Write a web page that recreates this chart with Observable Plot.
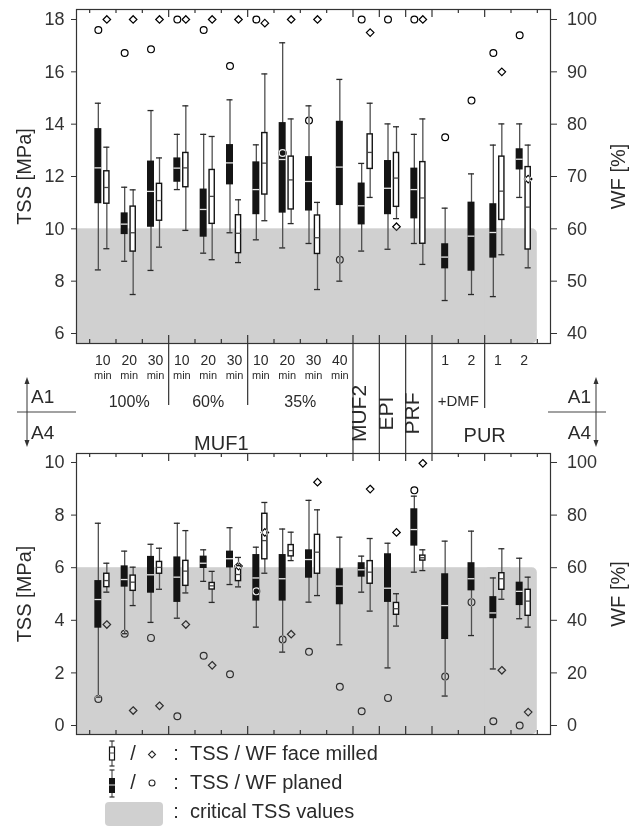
<!DOCTYPE html>
<html><head><meta charset="utf-8">
<script src="https://cdn.jsdelivr.net/npm/d3@7"></script>
<script src="https://cdn.jsdelivr.net/npm/@observablehq/plot@0.6"></script>
<style>
body{margin:0;background:#fff;}
#wrap{position:relative;width:630px;height:828px;font-family:"Liberation Sans",Arial,sans-serif;}
#wrap svg{position:absolute;left:0;}
</style></head><body><div id="wrap"></div>
<script>
// ---- categories ----
const groups = ["MUF1 100% 10 min","MUF1 100% 20 min","MUF1 100% 30 min","MUF1 60% 10 min","MUF1 60% 20 min","MUF1 60% 30 min","MUF1 35% 10 min","MUF1 35% 20 min","MUF1 35% 30 min","MUF1 35% 40 min","MUF2","EPI","PRF","PUR+DMF 1","PUR+DMF 2","PUR 1","PUR 2"];
const hasFace = [1,1,1,1,1,1,1,1,1,0,1,1,1,0,0,1,1];
const durLabels = ["10","20","30","10","20","30","10","20","30","40","","","","1","2","1","2"];
const minLabels = ["min","min","min","min","min","min","min","min","min","min","","","","","","",""];
const concLabels = ["100%","60%","35%"];
const concSpans = [[0,3],[3,6],[6,10]];
const sysLabels = ["MUF1","PUR"];
const sysSpans = [[0,10],[13,17]];
const vertLabels = ["MUF2","EPI","PRF"];
const vertGroups = [10,11,12];
const dmfLabel = "+DMF";
const majorBounds = [3,6,10,11,12,13,15];
const legendLabels = ["TSS / WF face milled","TSS / WF planed","critical TSS values"];

// ---- A1: TSS boxes [lower whisker, Q1, median, Q3, upper whisker] ----
const a1Planed = [
 [8.43,10.96,12.33,13.83,14.80],[8.76,9.78,10.18,10.61,11.59],[8.41,10.06,11.43,12.59,14.52],
 [11.50,11.78,12.32,12.71,13.61],[9.07,9.68,10.74,11.52,13.61],[9.85,11.68,12.52,13.22,14.93],
 [9.58,10.54,11.50,12.56,13.21],[9.27,10.60,12.65,14.06,17.11],[9.44,10.68,11.81,12.76,14.70],
 [8.00,10.89,12.36,14.11,15.71],[9.15,10.15,10.88,11.75,12.50],[9.22,10.54,11.55,12.61,14.01],
 [9.44,10.38,11.50,12.32,13.61],[7.26,8.47,8.92,9.43,10.79],[7.49,8.38,9.72,11.02,12.10],
 [7.41,8.88,9.86,10.96,13.20],[11.20,12.25,12.66,13.06,14.01]];
const a1Face = [
 [9.24,10.96,11.58,12.20,13.12],[7.49,9.13,9.85,10.85,11.49],[9.30,10.31,11.08,11.72,12.71],
 [9.94,11.59,12.33,12.90,14.70],[8.82,10.19,11.24,12.25,13.53],[8.71,9.07,9.83,10.52,11.11],
 [10.31,11.31,12.51,13.66,15.92],[10.20,10.74,11.87,12.76,14.20],[7.68,9.04,9.66,10.51,11.01],
 null,[11.20,12.29,12.92,13.61,14.80],[10.39,10.84,11.94,12.90,13.90],
 [8.64,9.43,11.18,12.55,14.20],null,null,
 [9.01,10.34,11.44,12.76,14.01],[8.51,9.21,10.83,12.36,13.20]];
const a1WfPlaned = [98.0,93.6,94.3,100,98.0,91.1,100,74.5,80.7,54.1,100,100,100,77.5,84.5,93.6,97.0];
const a1WfFace   = [100,100,100,100,100,100,99.3,100,100,null,97.5,60.4,100,null,null,90.0,69.5];

// ---- A4 ----
const a4Planed = [
 [1.08,3.70,4.79,5.51,7.69],[3.49,5.26,5.55,6.07,6.63],[3.92,5.03,5.73,6.43,6.89],
 [4.08,4.68,5.64,6.41,7.69],[5.48,5.97,6.17,6.44,6.68],[5.36,5.99,6.34,6.63,7.52],
 [3.74,4.73,5.61,6.50,6.78],[2.79,4.73,5.58,6.50,7.47],[4.69,5.60,6.31,6.68,8.56],
 [3.07,4.59,5.30,5.96,7.16],[5.07,5.64,5.92,6.19,6.44],[2.19,4.68,5.22,6.53,6.93],
 [5.83,6.82,7.45,8.24,8.72],[1.12,3.27,4.56,5.77,7.01],[3.42,5.12,5.58,6.19,7.39],
 [2.15,4.06,4.28,4.90,5.61],[4.06,4.56,5.10,5.45,6.36]];
const a4Face = [
 [5.07,5.26,5.51,5.77,6.17],[4.56,5.12,5.45,5.70,6.02],[5.18,5.77,6.01,6.22,6.74],
 [5.04,5.31,5.87,6.26,7.41],[4.68,5.17,5.31,5.42,5.86],[5.27,5.49,5.74,6.06,6.39],
 [5.79,6.32,7.03,8.05,8.48],[6.27,6.43,6.65,6.86,7.35],[4.94,5.77,6.59,7.25,8.20],
 null,[4.35,5.39,5.83,6.25,7.11],[3.78,4.21,4.44,4.66,5.01],
 [5.89,6.27,6.38,6.46,6.68],null,null,
 [4.80,5.16,5.58,5.79,6.72],[3.74,4.17,4.73,5.16,5.64]];
const a4WfPlaned = [10.1,34.9,33.3,3.5,26.5,19.5,51.0,32.7,28.0,14.7,5.4,10.5,89.4,18.6,46.9,1.6,0];
const a4WfFace   = [38.4,5.7,7.5,38.4,22.9,60.6,73.4,34.7,92.5,null,89.9,73.4,99.7,null,null,21.0,5.1];

const topTicks = [6,8,10,12,14,16,18];
const bottomTicks = [0,2,4,6,8,10];

// ---- styling ----
const GREY = "#d0d0d0";
const INK = "#2a2a2a";
const FONT = "Liberation Sans, Arial, sans-serif";
const BAND = 474 / 18, HALF = BAND / 2;
const geo = {p: {off: -4.5, hw: 3.5}, c: {off: 0, hw: 3.5}, f: {off: 4, hw: 2.6}};
const bounds = d3.range(18);

function boxMarks(rows, kind) {
  const {off, hw} = geo[kind];
  const cap = 3;
  const r = rows.filter(d => d.kind === kind);
  const face = kind === "f";
  return [
    Plot.ruleX(r, {x: d => d.g + 0.5, y1: "lo", y2: "hi", dx: off, stroke: "#505050", strokeWidth: 1.3}),
    Plot.ruleY(r, {x1: "g", x2: d => d.g + 1, y: "lo", insetLeft: HALF + off - cap, insetRight: HALF - off - cap, stroke: INK, strokeWidth: 1.3}),
    Plot.ruleY(r, {x1: "g", x2: d => d.g + 1, y: "hi", insetLeft: HALF + off - cap, insetRight: HALF - off - cap, stroke: INK, strokeWidth: 1.3}),
    Plot.rect(r, {x1: "g", x2: d => d.g + 1, y1: "q1", y2: "q3", insetLeft: HALF + off - hw, insetRight: HALF - off - hw,
      fill: face ? "white" : "#141414", stroke: face ? "#141414" : "none", strokeWidth: 1.4}),
    Plot.ruleY(r, {x1: "g", x2: d => d.g + 1, y: "med", insetLeft: HALF + off - hw, insetRight: HALF - off - hw,
      stroke: face ? "#444" : "#e6e6e6", strokeWidth: 1.3})
  ];
}

function wfMarks(rows, kind, cfg, symbol) {
  const {off} = geo[kind];
  return Plot.dot(rows.filter(d => d.kind === kind), {x: d => d.g + 0.5, y: d => cfg.wfToY(d.wf), dx: off,
    r: 3.4, symbol, fill: "none", stroke: "white", strokeWidth: 1.2, mixBlendMode: "difference"});
}

function panel(cfg) {
  const fb = cfg.height - cfg.marginBottom, ft = cfg.marginTop;
  const [d0, d1] = cfg.domain;
  const k = (fb - ft) / (d1 - d0);
  const yAt = px => d0 + (fb - px) / k;
  const tickLen = b => majorBounds.includes(b) ? 8 : 4;
  const stats = (arr, kindOf) => arr.map((s, i) => s && {g: i, kind: kindOf(i), lo: s[0], q1: s[1], med: s[2], q3: s[3], hi: s[4]}).filter(Boolean);
  const pRows = stats(cfg.planed, i => hasFace[i] ? "p" : "c");
  const fRows = stats(cfg.face, () => "f");
  const wfP = cfg.wfPlaned.map((w, i) => w == null ? null : {g: i, kind: hasFace[i] ? "p" : "c", wf: w}).filter(Boolean);
  const wfF = cfg.wfFace.map((w, i) => w == null ? null : {g: i, kind: "f", wf: w}).filter(Boolean);

  const marks = [
    Plot.rect([cfg.crit], {x1: -0.5, x2: 16, y1: d0, y2: d => d, fill: GREY}),
    Plot.rect([cfg.crit], {x1: 15, x2: 17, y1: d0, y2: d => d, fill: GREY, rx: 5}),
    Plot.frame({stroke: "#333", strokeWidth: 1.2}),
    Plot.axisY({anchor: "left", ticks: cfg.yTicks, tickSize: 5, tickPadding: 7, fontSize: 18, label: null, color: "#333"}),
    Plot.axisY({anchor: "right", ticks: cfg.yTicks, tickFormat: cfg.yToWf, tickSize: 6, tickPadding: 10.5, fontSize: 18, label: null, color: "#333"}),
    Plot.ruleX(bounds, {x: b => b, y1: yAt(fb), y2: b => yAt(fb - tickLen(b)), stroke: "#333", strokeWidth: 1.2}),
    Plot.ruleX(bounds, {x: b => b, y1: yAt(ft), y2: b => yAt(ft + tickLen(b)), stroke: "#333", strokeWidth: 1.2}),
    Plot.text(["TSS [MPa]"], {text: d => d, frameAnchor: "left", textAnchor: "middle", rotate: -90, dx: -52, fontSize: 20, fill: INK}),
    Plot.text(["WF [%]"], {text: d => d, frameAnchor: "right", textAnchor: "middle", rotate: -90, dx: 68, fontSize: 20, fill: INK}),
    ...boxMarks(pRows, "p"), ...boxMarks(pRows, "c"), ...boxMarks(fRows, "f"),
    wfMarks(wfP, "p", cfg, "circle"), wfMarks(wfP, "c", cfg, "circle"),
    wfMarks(wfF, "f", cfg, "diamond2")
  ];

  if (cfg.labels) {
    const sepEnd = b => (b === 3 || b === 6) ? 405 : b === 15 ? 408 : cfg.height;
    const g = d3.range(groups.length);
    marks.push(
      Plot.ruleX(majorBounds, {x: b => b, y1: yAt(fb), y2: b => yAt(sepEnd(b)), stroke: "#333", strokeWidth: 1.2}),
      Plot.text(g.filter(i => durLabels[i]), {x: i => i + 0.5, text: i => durLabels[i], frameAnchor: "bottom", textAnchor: "middle", dy: 21, fontSize: 14, fill: INK}),
      Plot.text(g.filter(i => minLabels[i]), {x: i => i + 0.5, text: i => minLabels[i], frameAnchor: "bottom", textAnchor: "middle", dy: 35, fontSize: 11, fill: INK}),
      Plot.text(concLabels, {x: (d, i) => (concSpans[i][0] + concSpans[i][1]) / 2, text: d => d, frameAnchor: "bottom", textAnchor: "middle", dy: 63, fontSize: 16, fill: INK}),
      Plot.text([sysLabels[0]], {x: (sysSpans[0][0] + sysSpans[0][1]) / 2, text: d => d, frameAnchor: "bottom", textAnchor: "middle", dy: 106, fontSize: 20, fill: INK}),
      Plot.text([sysLabels[1]], {x: (sysSpans[1][0] + sysSpans[1][1]) / 2, text: d => d, frameAnchor: "bottom", textAnchor: "middle", dy: 98, fontSize: 20, fill: INK}),
      Plot.text(vertLabels, {x: (d, i) => vertGroups[i] + 0.5, text: d => d, frameAnchor: "bottom", textAnchor: "middle", dy: 70, rotate: -90, fontSize: 21, fill: INK}),
      Plot.text([dmfLabel], {x: 14, text: d => d, frameAnchor: "bottom", textAnchor: "middle", dy: 62, fontSize: 15, fill: INK})
    );
  }

  return Plot.plot({
    width: 630, height: cfg.height,
    marginLeft: 76, marginRight: 80, marginTop: cfg.marginTop, marginBottom: cfg.marginBottom,
    x: {type: "linear", domain: [-0.5, 17.5], axis: null},
    y: {domain: cfg.domain},
    style: {fontFamily: FONT, color: INK, background: "transparent", overflow: "visible"},
    marks
  });
}

const topCfg = {planed: a1Planed, face: a1Face, wfPlaned: a1WfPlaned, wfFace: a1WfFace, crit: 10,
  yTicks: topTicks, domain: [5.618, 18.382], height: 453, marginTop: 9, marginBottom: 110,
  wfToY: w => 6 + (w - 40) / 5, yToWf: t => 40 + (t - 6) * 5, labels: true};
const botCfg = {planed: a4Planed, face: a4Face, wfPlaned: a4WfPlaned, wfFace: a4WfFace, crit: 6,
  yTicks: bottomTicks, domain: [-0.342, 10.342], height: 292, marginTop: 5, marginBottom: 6,
  wfToY: w => w / 10, yToWf: t => t * 10, labels: false};

const wrap = document.getElementById("wrap");
const topPlot = panel(topCfg); topPlot.style.top = "0px"; wrap.appendChild(topPlot);
const botPlot = panel(botCfg); botPlot.style.top = "448px"; wrap.appendChild(botPlot);

// ---- A1/A4 markers and legend overlay ----
const ov = d3.select(wrap).append("svg").attr("width", 630).attr("height", 828)
  .style("top", "0px").style("pointer-events", "none")
  .attr("font-family", FONT).attr("fill", INK);

function marker(xa, xb, xArrow, xText, anchor) {
  ov.append("line").attr("x1", xa).attr("x2", xb).attr("y1", 412).attr("y2", 412).attr("stroke", "#444").attr("stroke-width", 1.2);
  ov.append("line").attr("x1", xArrow).attr("x2", xArrow).attr("y1", 381).attr("y2", 443).attr("stroke", "#333").attr("stroke-width", 1);
  ov.append("path").attr("d", `M${xArrow},377L${xArrow-2.5},384L${xArrow+2.5},384Z`).attr("fill", "#333");
  ov.append("path").attr("d", `M${xArrow},447L${xArrow-2.5},440L${xArrow+2.5},440Z`).attr("fill", "#333");
  ov.append("text").attr("x", xText).attr("y", 403).attr("text-anchor", anchor).attr("font-size", 19).text("A1");
  ov.append("text").attr("x", xText).attr("y", 439).attr("text-anchor", anchor).attr("font-size", 19).text("A4");
}
marker(17, 76, 27, 31, "start");
marker(548, 606, 596, 591, "end");

// legend
const lg = ov.append("g");
lg.append("line").attr("x1", 112).attr("x2", 112).attr("y1", 741).attr("y2", 766).attr("stroke", "#505050").attr("stroke-width", 1.2);
[741, 766].forEach(y => lg.append("line").attr("x1", 109.5).attr("x2", 114.5).attr("y1", y).attr("y2", y).attr("stroke", INK).attr("stroke-width", 1.2));
lg.append("rect").attr("x", 109.5).attr("y", 747).attr("width", 5).attr("height", 13).attr("fill", "white").attr("stroke", "#141414").attr("stroke-width", 1.2);
lg.append("line").attr("x1", 109.5).attr("x2", 114.5).attr("y1", 753).attr("y2", 753).attr("stroke", "#444").attr("stroke-width", 1);
lg.append("line").attr("x1", 112).attr("x2", 112).attr("y1", 770).attr("y2", 797).attr("stroke", "#505050").attr("stroke-width", 1.2);
[770, 797].forEach(y => lg.append("line").attr("x1", 109.5).attr("x2", 114.5).attr("y1", y).attr("y2", y).attr("stroke", INK).attr("stroke-width", 1.2));
lg.append("rect").attr("x", 109).attr("y", 778).attr("width", 6).attr("height", 15).attr("fill", "#141414");
lg.append("line").attr("x1", 109).attr("x2", 115).attr("y1", 785).attr("y2", 785).attr("stroke", "#e6e6e6").attr("stroke-width", 1);
lg.append("path").attr("d", "M152,751L155.5,754.5L152,758L148.5,754.5Z").attr("fill", "none").attr("stroke", INK).attr("stroke-width", 1.1);
lg.append("circle").attr("cx", 152).attr("cy", 783).attr("r", 3).attr("fill", "none").attr("stroke", INK).attr("stroke-width", 1.1);
lg.append("rect").attr("x", 105).attr("y", 802).attr("width", 58).attr("height", 24).attr("rx", 4).attr("fill", GREY);
const rowsY = [760, 789, 818];
rowsY.forEach((y, i) => {
  if (i < 2) lg.append("text").attr("x", 133).attr("y", y).attr("font-size", 20).attr("text-anchor", "middle").text("/");
  lg.append("text").attr("x", 176).attr("y", y).attr("font-size", 20).attr("text-anchor", "middle").text(":");
  lg.append("text").attr("x", 190).attr("y", y).attr("font-size", 20).text(legendLabels[i]);
});
</script></body></html>
